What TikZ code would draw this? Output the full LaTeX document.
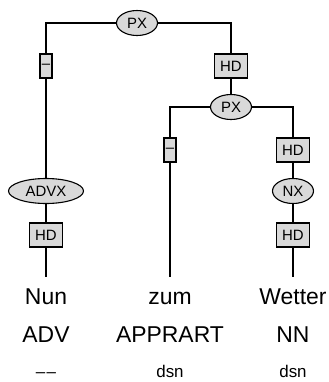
\documentclass[tikz,border=0pt]{standalone}
\usepackage{fontspec}
\setmainfont{Liberation Sans}
\usetikzlibrary{positioning,shapes.geometric}

\begin{document}
\begin{tikzpicture}[x=1bp, y=-1bp, line width=1.1pt,
  every node/.style={font=\fontsize{15}{16}\selectfont},
  catnode/.style={draw, ellipse, fill=black!15, inner sep=0pt, minimum height=25bp},
  edgebox/.style={draw, rectangle, fill=black!15, inner sep=0pt, minimum height=24bp},
  wordnode/.style={font=\fontsize{23}{25}\selectfont, inner sep=0pt},
  morphnode/.style={font=\fontsize{17}{19}\selectfont, inner sep=0pt}]
\useasboundingbox (0,0) rectangle (329,382);
% tree nodes
\node[catnode, minimum width=41bp] (px1) at (137,23) {PX};
\node[edgebox, minimum width=12bp] (sep1) at (46,66) {–};
\node[edgebox, minimum width=33bp] (hd1) at (231,66) {HD};
\node[catnode, minimum width=41bp] (px2) at (231,107) {PX};
\node[edgebox, minimum width=12bp] (sep2) at (170,150) {–};
\node[edgebox, minimum width=33bp] (hd2) at (293,150) {HD};
\node[catnode, minimum width=75bp] (advx) at (46,191) {ADVX};
\node[catnode, minimum width=41bp] (nx) at (293,191) {NX};
\node[edgebox, minimum width=33bp] (hd3) at (46,235) {HD};
\node[edgebox, minimum width=33bp] (hd4) at (293,235) {HD};
% words
\node[wordnode, text height=16.5bp, text depth=5bp, anchor=north] (nun) at (46,287) {Nun};
\node[wordnode, text height=16.5bp, text depth=5bp, anchor=north] (zum) at (170,287) {zum};
\node[wordnode, text height=16.5bp, text depth=5bp, anchor=north] (wetter) at (293,287) {Wetter};
\node[wordnode, anchor=base] (adv) at (46,342) {ADV};
\node[wordnode, anchor=base] (apprart) at (170,342) {APPRART};
\node[wordnode, anchor=base] (nn) at (293,342) {NN};
\node[morphnode, anchor=base] (morph1) at (46,377) {–\kern1.5pt–};
\node[morphnode, anchor=base] (morph2) at (170,377) {dsn};
\node[morphnode, anchor=base] (morph3) at (293,377) {dsn};
% edges
\draw (px1) -| (sep1);
\draw (px1) -| (hd1);
\draw (hd1) -- (px2);
\draw (px2) -| (sep2);
\draw (px2) -| (hd2);
\draw (sep1) -- (advx);
\draw (advx) -- (hd3);
\draw (hd3) -- ([yshift=10bp]nun.north);
\draw (sep2) -- ([yshift=10bp]zum.north);
\draw (hd2) -- (nx);
\draw (nx) -- (hd4);
\draw (hd4) -- ([yshift=10bp]wetter.north);
\end{tikzpicture}
\end{document}
